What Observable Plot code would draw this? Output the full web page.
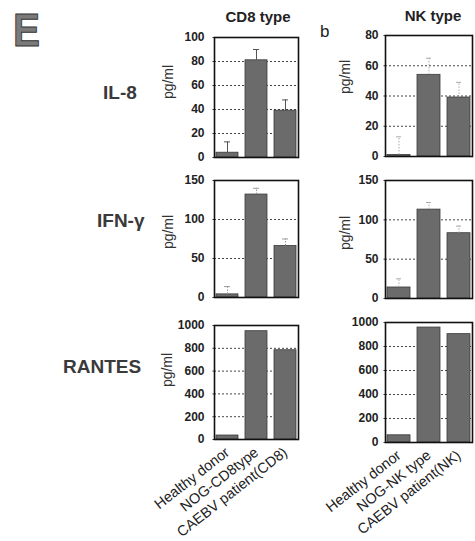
<!DOCTYPE html>
<html>
<head>
<meta charset="utf-8">
<script src="https://cdn.jsdelivr.net/npm/d3@7"></script>
<script src="https://cdn.jsdelivr.net/npm/@observablehq/plot@0.6"></script>
<style>
  html, body { margin: 0; padding: 0; background: #fff; }
  #wrap { position: relative; width: 475px; height: 541px; overflow: hidden; background: #fff; font-family: "Liberation Sans", Arial, sans-serif; }
  #wrap > svg.panel { position: absolute; overflow: visible; }
  #overlay { position: absolute; left: 0; top: 0; }
</style>
</head>
<body>
<div id="wrap"></div>
<script>
// ---- data ----
const groupsCD8 = ["Healthy donor", "NOG-CD8type", "CAEBV patient(CD8)"];
const groupsNK = ["Healthy donor", "NOG-NK type", "CAEBV patient(NK)"];

const il8CD8 = [4, 81, 39];
const il8CD8Upper = [13, 90, 48];
const il8NK = [1, 54, 39];
const il8NKUpper = [13, 65, 49];

const ifnCD8 = [4, 132, 66];
const ifnCD8Upper = [14, 140, 75];
const ifnNK = [14, 113, 83];
const ifnNKUpper = [25, 122, 92];

const rantesCD8 = [35, 950, 783];
const rantesNK = [60, 958, 903];

const ticksIL8CD8 = [0, 20, 40, 60, 80, 100];
const ticksIL8NK = [0, 20, 40, 60, 80];
const ticksIFN = [0, 50, 100, 150];
const ticksRANTES = [0, 200, 400, 600, 800, 1000];

const rowLabels = ["IL-8", "IFN-γ", "RANTES"];
const colTitles = ["CD8 type", "NK type"];
const unitLabel = "pg/ml";

// ---- panels ----
const wrap = document.getElementById("wrap");

function panel(o) {
  const data = o.groups.map((g, i) => ({group: g, value: o.values[i], upper: o.upper ? o.upper[i] : null}));
  const errData = data.filter(d => d.upper != null);
  const yMax = o.ticks[o.ticks.length - 1];
  const marks = [
    Plot.gridY(o.ticks.filter(t => t > 0 && t < yMax), {stroke: "#444", strokeOpacity: 1, strokeDasharray: "2,2"}),
    Plot.axisY(o.ticks, {tickSize: 3, tickPadding: o.tickPadding, tickFormat: d => String(d), fontWeight: "bold", fontSize: 12, label: null, stroke: "#333", strokeDasharray: "1.5,1.5"}),
    Plot.barY(data, {x: "group", y: "value", fill: "#6b6b6b", stroke: "#3a3a3a", strokeWidth: 0.8}),
    Plot.ruleX(errData, {x: "group", y1: "value", y2: "upper", stroke: o.errColor, strokeWidth: 1, strokeDasharray: o.errDash}),
    Plot.tickY(errData, {x: "group", y: "upper", stroke: o.errColor, strokeWidth: 1, insetLeft: o.capInset, insetRight: o.capInset}),
    Plot.frame({stroke: "#111", strokeWidth: 1.6})
  ];
  if (o.showX) {
    marks.push(Plot.axisX({tickSize: 0, tickRotate: -38, tickPadding: 11, fontSize: 14.5, fill: "#222", label: null}));
  }
  const svg = Plot.plot({
    width: o.width, height: o.height,
    marginLeft: o.ml, marginRight: o.mr, marginTop: o.mt, marginBottom: o.mb,
    style: {fontFamily: "Liberation Sans, Arial, sans-serif", color: "#222", background: "transparent", overflow: "visible"},
    x: {domain: o.groups, padding: 0.23, paddingOuter: o.po, axis: o.showX ? undefined : null},
    y: {domain: [0, yMax]},
    marks
  });
  svg.classList.add("panel");
  svg.style.left = o.left + "px";
  svg.style.top = o.top + "px";
  wrap.appendChild(svg);
}

const L = {left: 100, width: 200, ml: 114, mr: 2, po: 0.05, tickPadding: 7, capInset: 8, groups: groupsCD8};
const R = {left: 300, width: 175, ml: 85, mr: 3, po: 0.03, tickPadding: 4, capInset: 9, groups: groupsNK};

panel({...L, top: 27, mt: 10, height: 10 + 120 + 8, mb: 8, values: il8CD8, upper: il8CD8Upper, ticks: ticksIL8CD8, errColor: "#555", errDash: null});
panel({...R, top: 25, mt: 10, height: 10 + 121 + 8, mb: 8, values: il8NK, upper: il8NKUpper, ticks: ticksIL8NK, errColor: "#aaa", errDash: "1.5,1.5"});
panel({...L, top: 170, mt: 10, height: 10 + 117 + 8, mb: 8, values: ifnCD8, upper: ifnCD8Upper, ticks: ticksIFN, errColor: "#999", errDash: "1.5,1.5"});
panel({...R, top: 170, mt: 10, height: 10 + 118 + 8, mb: 8, values: ifnNK, upper: ifnNKUpper, ticks: ticksIFN, errColor: "#aaa", errDash: "1.5,1.5"});
panel({...L, top: 315, mt: 10, height: 10 + 114 + 110, mb: 110, values: rantesCD8, upper: null, ticks: ticksRANTES, showX: true});
panel({...R, top: 312, mt: 10, height: 10 + 120 + 110, mb: 110, values: rantesNK, upper: null, ticks: ticksRANTES, showX: true});

// ---- text overlay ----
const ov = d3.select(wrap).append("svg").attr("id", "overlay").attr("width", 475).attr("height", 541)
  .style("font-family", "Liberation Sans, Arial, sans-serif");

ov.append("text").text("E").attr("x", 13).attr("y", 46).attr("font-size", 47).attr("font-weight", "bold")
  .attr("fill", "#7a7a7a").attr("stroke", "#333").attr("stroke-width", 1)
  .attr("textLength", 27).attr("lengthAdjust", "spacingAndGlyphs");

ov.append("text").text(colTitles[0]).attr("x", 258).attr("y", 22).attr("text-anchor", "middle")
  .attr("font-size", 15).attr("font-weight", "bold").attr("fill", "#222");
ov.append("text").text(colTitles[1]).attr("x", 433).attr("y", 21).attr("text-anchor", "middle")
  .attr("font-size", 15).attr("font-weight", "bold").attr("fill", "#222");
ov.append("text").text("b").attr("x", 320).attr("y", 37).attr("font-size", 17).attr("fill", "#222");

const rowPos = [[103, 99], [97, 227], [63, 373]];
rowLabels.forEach((t, i) => {
  ov.append("text").text(t).attr("x", rowPos[i][0]).attr("y", rowPos[i][1])
    .attr("font-size", 19).attr("font-weight", "bold").attr("fill", "#3a3a3a");
});

const unitPos = [[168, 82], [168, 232], [167, 370], [345, 77], [345, 233]];
unitPos.forEach(([x, y]) => {
  ov.append("text").text(unitLabel).attr("transform", `translate(${x},${y}) rotate(-90)`)
    .attr("text-anchor", "middle").attr("dominant-baseline", "central")
    .attr("font-size", 14).attr("fill", "#333");
});
</script>
</body>
</html>
